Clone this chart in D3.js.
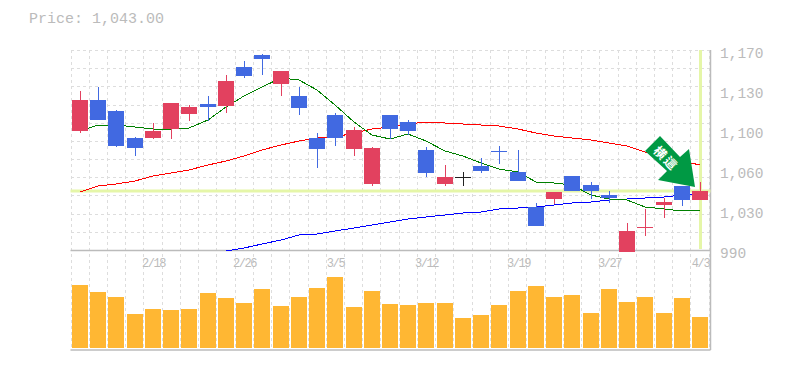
<!DOCTYPE html>
<html>
<head>
<meta charset="utf-8">
<script src="https://cdn.jsdelivr.net/npm/d3@7"></script>
<style>
body { margin: 0; background: #fff; }
text { font-family: "Liberation Mono", monospace; fill: #bbb; }
</style>
</head>
<body>
<div id="chart"></div>
<script>
// daily data
var dates = ["2/12","2/13","2/14","2/15","2/18","2/19","2/20","2/21","2/22","2/26","2/27","2/28","3/1","3/4","3/5","3/6","3/7","3/8","3/11","3/12","3/13","3/14","3/15","3/18","3/19","3/20","3/22","3/25","3/26","3/27","3/28","3/29","4/1","4/2","4/3"];
var opens = [1097.1,1125,1115.1,1090.8,1090.8,1098.9,1112.4,1121.4,1119.6,1154.7,1165.5,1139.4,1128.6,1090.8,1111.5,1080.9,1049.4,1111.5,1105.2,1080,1049.4,1055.7,1065.6,1079.1,1060.2,1028.7,1035.9,1056.6,1048.5,1039.5,988.2,1010.7,1030.5,1047.6,1035];
var closes = [1125,1107,1083.6,1081.8,1097.1,1122.3,1118.7,1118.7,1142.1,1146.6,1161.9,1151.1,1117.8,1080.9,1090.8,1098,1081.8,1098.9,1097.1,1059.3,1055.7,1055.7,1061.1,1079.1,1052.1,1011.6,1042.2,1043.1,1043.1,1036.8,1007.1,1010.7,1033.2,1035,1043];
var highs = [1133.1,1136.7,1116,1091.7,1104.3,1122.3,1120.5,1128.6,1147.5,1160.1,1166.4,1151.1,1136.7,1095.3,1113.3,1100.7,1082.7,1111.5,1107,1082.7,1066.5,1060.2,1072.8,1083.6,1080,1032.3,1042.2,1056.6,1051.2,1043.1,1014.3,1026.9,1036.8,1047.6,1051.2];
var lows = [1095.3,1107,1082.7,1074.6,1089.9,1089.9,1106.1,1106.1,1113.3,1144.8,1147.5,1128.6,1111.5,1063.8,1083.6,1074.6,1047.6,1089.9,1093.5,1055.7,1047.6,1047.6,1059.3,1067.4,1052.1,1011.6,1031.4,1043.1,1035.9,1032.3,988.2,1002.6,1018.8,1029.6,1035];
var volumes = [63,56,51,34,39,38,39,55,50,45,59,42,51,60,71,41,57,44,43,45,45,30,33,43,57,62,51,53,35,59,46,51,35,50,31];
var maShort = [1097.1,1102.5,1102.5,1100.7,1098.9,1098.9,1099.8,1107,1118.7,1128.6,1136.7,1144.8,1143,1134,1120.5,1105.2,1093.5,1089.9,1094.4,1088.1,1079.1,1074.6,1068.3,1062.9,1060.2,1051.2,1050.3,1048.5,1039.5,1035.9,1035,1028.7,1026.9,1025.1,1026];
var maMid = [1042.2,1047.6,1049.4,1052.1,1056.6,1059.3,1062,1066.5,1070.1,1074.6,1080,1084.5,1088.1,1090.8,1091.7,1095.3,1098.9,1100.7,1103.4,1105.2,1104.3,1103.4,1102.5,1101.6,1098.9,1095.3,1092.6,1090.8,1089,1086.3,1083.6,1078.2,1073.7,1070.1,1066.5];
var maLong = [null,null,null,null,null,null,null,null,989.1,991.8,995.4,999,1003.5,1004.4,1007.1,1009.8,1012.5,1015.2,1017.9,1019.7,1021.5,1023.3,1024.2,1026.9,1027.8,1028.7,1030.5,1032.3,1033.2,1035,1035.9,1036.8,1037.7,1039.5,1040.4];
var priceTicks = [1170,1134,1098,1062,1026,990];
var priceLabels = ["1,170","1,130","1,100","1,060","1,030","990"];
var dateTicks = ["2/18","2/26","3/5","3/12","3/19","3/27","4/3"];
var lastPrice = 1043;

var width = 785, height = 370;
var plotLeft = 70.5, plotRight = 710.5, plotTop = 50, plotMid = 250, plotBottom = 350;

var svg = d3.select("#chart").append("svg")
    .attr("width", width)
    .attr("height", height)
    .style("display", "block");

var x = d3.scaleBand().domain(dates).range([71, 709.225]);
var y = d3.scaleLinear().domain([990, 1170]).range([plotMid, plotTop]);
var yVol = d3.scaleLinear().domain([0, 100]).range([348, 248]);
var barLeft = d => Math.round(x(d) + 1);
var cx = d => barLeft(d) + 8;

svg.append("text")
    .attr("x", 29).attr("y", 23)
    .style("font-size", "15px")
    .text("Price: " + d3.format(",.2f")(lastPrice));

// grid
var gridX = d => (d == "end" ? 709 : Math.floor(x(d))) + 0.5;
var grid = svg.append("g")
    .attr("stroke", "#ddd")
    .attr("stroke-dasharray", "3,3")
    .attr("shape-rendering", "crispEdges");
grid.selectAll(".v").data(dates.concat(["end"])).enter().append("line")
    .attr("x1", gridX)
    .attr("x2", gridX)
    .attr("y1", plotTop).attr("y2", plotBottom);
grid.selectAll(".h").data(d3.range(11)).enter().append("line")
    .attr("x1", plotLeft).attr("x2", plotRight)
    .attr("y1", d => plotTop + 0.5 + d * (plotMid - plotTop) / 11)
    .attr("y2", d => plotTop + 0.5 + d * (plotMid - plotTop) / 11);

// frame lines
var frame = svg.append("g").attr("stroke", "#bbb").attr("stroke-width", 1.5);
frame.append("line").attr("x1", plotLeft).attr("x2", plotRight).attr("y1", plotMid + 0.5).attr("y2", plotMid + 0.5);
frame.append("line").attr("x1", plotLeft).attr("x2", plotRight).attr("y1", plotBottom).attr("y2", plotBottom);
frame.append("line").attr("x1", plotRight).attr("x2", plotRight).attr("y1", plotTop).attr("y2", plotBottom);

// last price markers
var mark = svg.append("g").attr("stroke", "#e5f6a8").attr("stroke-width", 3);
mark.append("line").attr("x1", plotLeft).attr("x2", plotRight).attr("y1", y(lastPrice)).attr("y2", y(lastPrice));
mark.append("line").attr("x1", cx("4/3") + 0.5).attr("x2", cx("4/3") + 0.5).attr("y1", plotTop).attr("y2", plotMid - 1);

// moving averages
var line = d3.line()
    .defined(d => d.v != null)
    .x(d => cx(d.date))
    .y(d => y(d.v));
function drawMa(values, color) {
    svg.append("path")
        .datum(values.map((v, i) => ({date: dates[i], v: v})))
        .attr("d", line)
        .attr("fill", "none")
        .attr("stroke", color)
        .attr("stroke-width", 1)
        .attr("shape-rendering", "crispEdges");
}
drawMa(maMid, "#ff0000");
drawMa(maLong, "#0000ff");
drawMa(maShort, "#008000");

// candles
var candleColor = function(i) {
    if (dates[i] == "3/14") return "#222";
    return closes[i] >= opens[i] && dates[i] != "3/18" ? "#e2415f" : "#4169e1";
};
var candles = svg.append("g").attr("shape-rendering", "crispEdges");
candles.selectAll(".wick").data(dates).enter().append("line")
    .attr("x1", d => cx(d) + 0.5).attr("x2", d => cx(d) + 0.5)
    .attr("y1", (d, i) => y(highs[i]))
    .attr("y2", (d, i) => y(lows[i]))
    .attr("stroke", (d, i) => candleColor(i));
candles.selectAll(".body").data(dates).enter().append("rect")
    .attr("x", barLeft)
    .attr("width", 16)
    .attr("y", (d, i) => y(Math.max(opens[i], closes[i])))
    .attr("height", (d, i) => Math.max(1, Math.abs(y(opens[i]) - y(closes[i]))))
    .attr("fill", (d, i) => candleColor(i));

// volume
svg.append("g").selectAll("rect").data(dates).enter().append("rect")
    .attr("x", barLeft)
    .attr("width", 16)
    .attr("y", (d, i) => yVol(volumes[i]))
    .attr("height", (d, i) => yVol(0) - yVol(volumes[i]))
    .attr("fill", "#ffb733");

// axis labels
svg.append("g").selectAll("text").data(priceTicks).enter().append("text")
    .attr("x", 720)
    .attr("y", d => y(d) + 7.5)
    .style("font-size", "14.5px")
    .text((d, i) => priceLabels[i]);
svg.append("g").selectAll("text").data(dateTicks).enter().append("text")
    .attr("x", d => cx(d) + 0.5)
    .attr("y", 267)
    .attr("text-anchor", "middle")
    .style("font-size", "12px")
    .style("letter-spacing", "-1.4px")
    .text(d => d);

// signal arrow, placed from the last candle
var tipX = cx("4/3") - 5, tipY = y(lastPrice) - 4;
var arrow = svg.append("g").attr("transform", "translate(" + tipX + "," + tipY + ")");
arrow.append("path")
    .attr("d", "M-50,-36L-35,-51L-15,-30L-6,-38L0,0L-37,-7L-28,-16Z")
    .attr("fill", "#009944");
arrow.append("text")
    .attr("transform", "translate(-29,-28.5) rotate(45)")
    .attr("text-anchor", "middle")
    .attr("y", 4.5)
    .style("font-family", "'Noto Sans CJK JP'")
    .style("font-size", "12.5px")
    .style("font-weight", "bold")
    .style("letter-spacing", "2px")
    .style("fill", "#fff")
    .text("横這");
</script>
</body>
</html>
